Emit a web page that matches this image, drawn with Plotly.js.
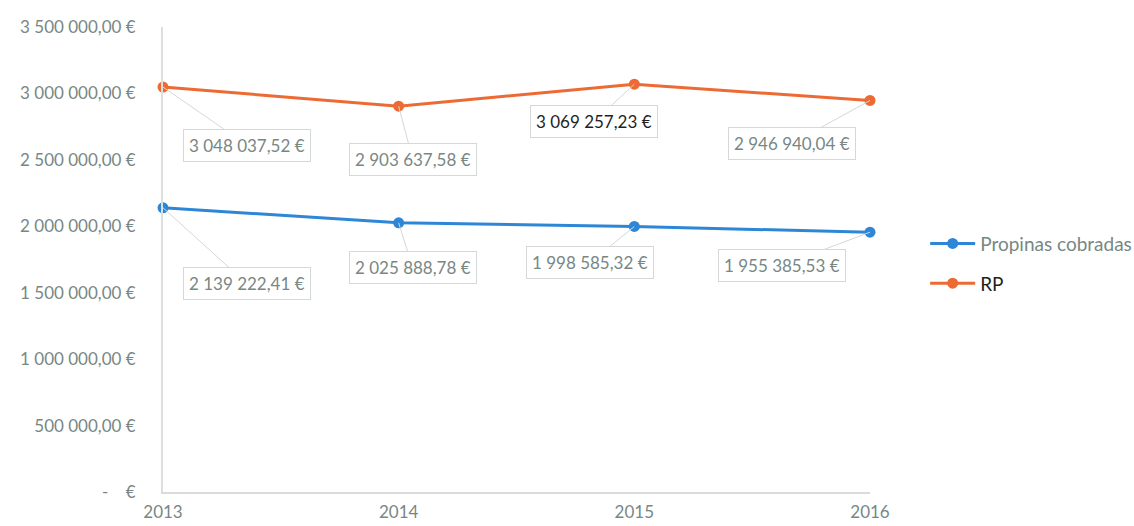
<!DOCTYPE html>
<html>
<head>
<meta charset="utf-8">
<script src="https://cdn.plot.ly/plotly-3.0.1.min.js"></script>
<style>html,body{margin:0;padding:0;background:#fff;}#chart{width:1134px;height:526px;}</style>
</head>
<body>
<div id="chart"></div>
<script>
const years = ["2013", "2014", "2015", "2016"];
const propinas = [2139222.41, 2025888.78, 1998585.32, 1955385.53];
const rp = [3048037.52, 2903637.58, 3069257.23, 2946940.04];
const propinasLabels = ["2 139 222,41 €", "2 025 888,78 €", "1 998 585,32 €", "1 955 385,53 €"];
const rpLabels = ["3 048 037,52 €", "2 903 637,58 €", "3 069 257,23 €", "2 946 940,04 €"];
const yTickVals = [0, 500000, 1000000, 1500000, 2000000, 2500000, 3000000, 3500000];
const yTickText = ["-\u00a0\u00a0\u00a0\u00a0€", "500 000,00 €", "1 000 000,00 €", "1 500 000,00 €", "2 000 000,00 €", "2 500 000,00 €", "3 000 000,00 €", "3 500 000,00 €"];

const FONT = "Lato, 'Noto Sans', sans-serif";
const GRAY = "#788784";
const BLUE = "#2e87d6";
const ORANGE = "#ec6a33";

// label offsets (pixels) from point to label centre
const rpOff = [[84, 58], [14, 53], [-40, 37], [-78, 43]];
const prOff = [[84, 76], [14, 45], [-44, 36], [-88, 33]];
const rpColors = [GRAY, GRAY, "#1f1f1f", GRAY];

const annotations = [];
function addLabels(vals, labels, offs, colors) {
  vals.forEach((v, i) => {
    annotations.push({
      x: i, y: v, xref: "x", yref: "y",
      text: labels[i],
      showarrow: true, arrowhead: 0, arrowwidth: 1, arrowcolor: "#d4d8d7",
      ax: offs[i][0], ay: offs[i][1],
      bgcolor: "#ffffff", bordercolor: "#d4d8d7", borderwidth: 1, borderpad: 5,
      font: {family: FONT, size: 17, color: colors ? colors[i] : GRAY}
    });
  });
}
addLabels(rp, rpLabels, rpOff, rpColors);
addLabels(propinas, propinasLabels, prOff, null);

const traces = [
  {x: [0,1,2,3], y: propinas, name: "Propinas cobradas", type: "scatter", mode: "lines+markers",
   legendgroup: "a", line: {color: BLUE, width: 3}, marker: {color: BLUE, size: 11}, cliponaxis: false},
  {x: [0,1,2,3], y: rp, name: "<span style='color:#1f1f1f'>RP</span>", type: "scatter", mode: "lines+markers",
   legendgroup: "b", line: {color: ORANGE, width: 3}, marker: {color: ORANGE, size: 11}, cliponaxis: false}
];

const layout = {
  width: 1134, height: 526,
  margin: {l: 163, r: 264, t: 27, b: 34, autoexpand: false},
  paper_bgcolor: "#ffffff", plot_bgcolor: "#ffffff",
  font: {family: FONT, size: 17, color: GRAY},
  showlegend: true,
  legend: {x: 1.078, y: 0.575, xanchor: "left", yanchor: "top", traceorder: "grouped",
           tracegroupgap: 12, font: {family: FONT, size: 19, color: GRAY}, itemwidth: 45},
  xaxis: {range: [0, 3], tickvals: [0,1,2,3], ticktext: years, showgrid: false, zeroline: false,
          showline: true, linecolor: "#d9dcdb", linewidth: 2, ticks: "", ticklabelstandoff: 4,
          tickfont: {size: 17, color: GRAY}},
  yaxis: {range: [0, 3500000], tickvals: yTickVals, ticktext: yTickText, showgrid: false, zeroline: false,
          showline: true, linecolor: "#dcdfde", linewidth: 2, ticks: "", ticklabelstandoff: 22,
          tickfont: {size: 17, color: GRAY}},
  annotations: annotations
};

Plotly.newPlot("chart", traces, layout, {displayModeBar: false, staticPlot: true});
</script>
</body>
</html>
